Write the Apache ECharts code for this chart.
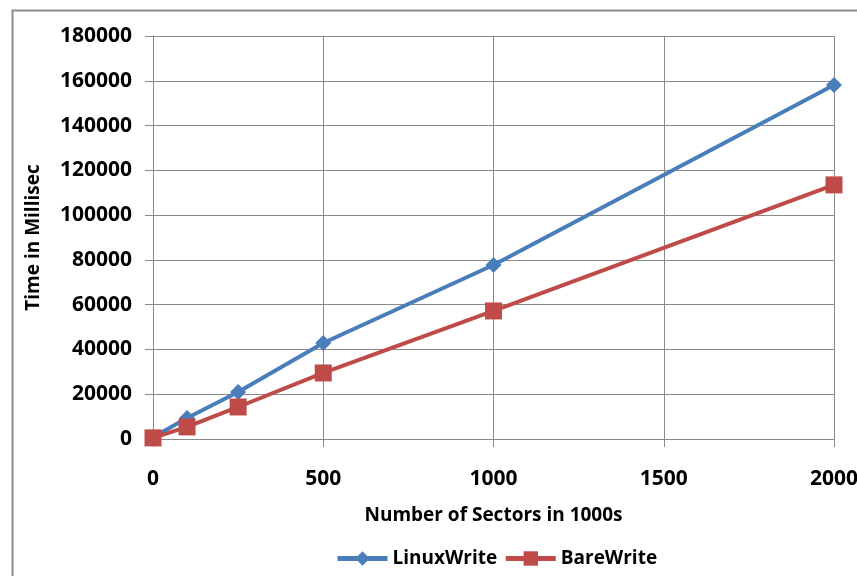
<!DOCTYPE html>
<html>
<head>
<meta charset="utf-8">
<script src="https://cdn.jsdelivr.net/npm/echarts@6/dist/echarts.min.js"></script>
<style>
  html, body { margin: 0; padding: 0; background: #fff; }
  #chart { width: 857px; height: 576px; }
</style>
</head>
<body>
<div id="chart"></div>
<script>
// Sectors written (in thousands)
var sectors = [0, 100, 250, 500, 1000, 2000];
// Elapsed time in milliseconds
var linuxWrite = [800, 9400, 21000, 42900, 77700, 158100];
var bareWrite = [500, 5400, 14300, 29500, 57200, 113500];

var seriesNames = ['LinuxWrite', 'BareWrite'];
var xTitle = 'Number of Sectors in 1000s';
var yTitle = 'Time in Millisec';

function pairs(xs, ys) {
  return xs.map(function (x, i) { return [x, ys[i]]; });
}
function plain(v) { return String(v); }

var font = '"Open Sans", sans-serif';
var gridColor = '#8a8a8a';
var blue = '#4a7ebb';
var red = '#be4b48';

var chart = echarts.init(document.getElementById('chart'), null, { renderer: 'canvas' });
chart.setOption({
  animation: false,
  backgroundColor: '#fff',
  graphic: [{
    type: 'rect',
    left: 10, top: 8,
    shape: { width: 900, height: 620 },
    style: { fill: 'none', stroke: '#8c8c8c', lineWidth: 2 },
    silent: true
  }],
  grid: { left: 153, right: 23, top: 36, bottom: 137, outerBoundsMode: 'none', containLabel: false },
  legend: {
    data: seriesNames,
    left: 330,
    top: 544,
    itemWidth: 50,
    itemHeight: 18,
    itemGap: 6,
    lineStyle: { width: 5 },
    textStyle: { fontFamily: font, fontWeight: 'bold', fontSize: 19, color: '#000' }
  },
  xAxis: {
    type: 'value',
    min: 0, max: 2000, interval: 500,
    name: xTitle,
    nameLocation: 'middle',
    nameGap: 67,
    nameTextStyle: { fontFamily: font, fontWeight: 'bold', fontSize: 19, color: '#000', verticalAlign: 'top' },
    axisLine: { show: true, lineStyle: { color: gridColor, width: 1 } },
    axisTick: { show: true, length: 8, inside: false, lineStyle: { color: gridColor } },
    axisLabel: { fontFamily: font, fontWeight: 'bold', fontSize: 21, color: '#000', margin: 30, formatter: plain },
    splitLine: { show: true, lineStyle: { color: gridColor, width: 1 } }
  },
  yAxis: {
    type: 'value',
    min: 0, max: 180000, interval: 20000,
    name: yTitle,
    nameLocation: 'middle',
    nameGap: 110,
    nameRotate: 90,
    nameTextStyle: { fontFamily: font, fontWeight: 'bold', fontSize: 19, color: '#000' },
    axisLine: { show: true, lineStyle: { color: gridColor, width: 1 } },
    axisTick: { show: true, length: 8, lineStyle: { color: gridColor } },
    axisLabel: { fontFamily: font, fontWeight: 'bold', fontSize: 21, color: '#000', margin: 21, formatter: plain },
    splitLine: { show: true, lineStyle: { color: gridColor, width: 1 } }
  },
  series: [{
    name: seriesNames[0],
    type: 'line',
    data: pairs(sectors, linuxWrite),
    symbol: 'diamond',
    symbolSize: 16,
    color: blue,
    lineStyle: { width: 4, color: blue },
    itemStyle: { color: blue }
  }, {
    name: seriesNames[1],
    type: 'line',
    data: pairs(sectors, bareWrite),
    symbol: 'rect',
    symbolSize: 17,
    color: red,
    lineStyle: { width: 4, color: red },
    itemStyle: { color: red }
  }]
});
</script>
</body>
</html>
